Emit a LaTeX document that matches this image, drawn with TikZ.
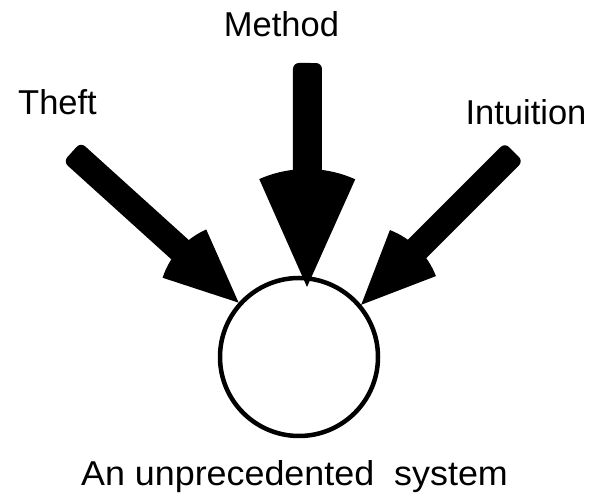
\documentclass[tikz,border=0pt]{standalone}
\usepackage{fontspec}
\setmainfont{Liberation Sans}
\usetikzlibrary{calc}
\newcommand\fatarrow[4]{% #1 tail, #2 tip, #3 head radius, #4 shaft width
  \path (#1); \pgfgetlastxy{\fatsx}{\fatsy}%
  \path (#2); \pgfgetlastxy{\fattx}{\fatty}%
  \pgfmathsetmacro\fatang{atan2(\fatsy-\fatty,\fatsx-\fattx)}%
  \pgfmathsetmacro\fatlen{veclen(\fatsy-\fatty,\fatsx-\fattx)}%
  \begin{scope}[shift={(#2)}, rotate=\fatang]
    \fill[rounded corners=6pt] (#3-15,-#4/2) rectangle (\fatlen,#4/2);
    \fill (0,0) -- (-24:#3) arc[start angle=-24, end angle=24, radius=#3] -- cycle;
  \end{scope}%
}
\begin{document}
\begin{tikzpicture}[x=1pt,y=1pt,
  lbl/.style={anchor=base, inner sep=0pt, font=\fontsize{34.5}{40}\selectfont}]
  \useasboundingbox (0,0) rectangle (589,494);
  \node[circle, draw, line width=4.5pt, inner sep=0pt, minimum size=158pt] (sys) at (299,137) {};
  \node[lbl] (method) at (281.5,457) {Method};
  \node[lbl] (theft) at (57.5,379) {Theft};
  \node[lbl] (intu) at (526,369) {Intuition};
  \node[lbl, xscale=1.04, transform shape] (caption) at (294.5,8) {An unprecedented\ \ system};
  \coordinate (sM) at (307.5,431);
  \coordinate (tM) at (307,207);
  \coordinate (sT) at (72,342);
  \coordinate (tT) at (sys.138.5);
  \coordinate (sI) at (514,342);
  \coordinate (tI) at (sys.40.6);
  \fatarrow{sM}{tM}{118}{29}
  \fatarrow{sT}{tT}{80}{26}
  \fatarrow{sI}{tI}{80}{26}
\end{tikzpicture}
\end{document}
